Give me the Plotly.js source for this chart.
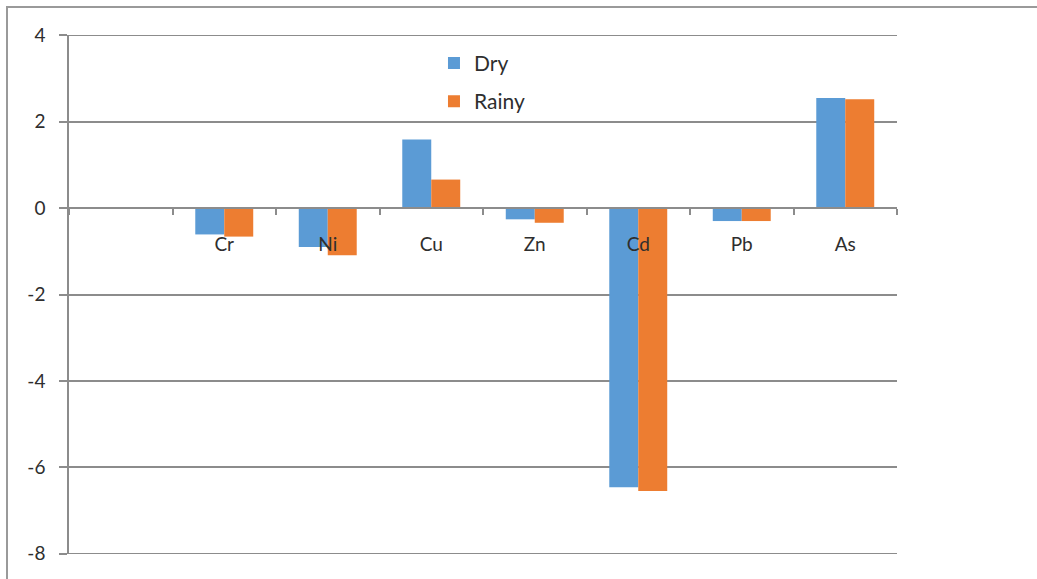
<!DOCTYPE html>
<html>
<head>
<meta charset="utf-8">
<script src="https://cdn.plot.ly/plotly-3.0.1.min.js"></script>
<style>
  html, body { margin: 0; padding: 0; background: #ffffff; }
  #wrap { position: relative; width: 1037px; height: 579px; overflow: hidden; }
  #chart { position: absolute; left: 0; top: 0; width: 1037px; height: 579px; }
  #frame { position: absolute; left: 6px; top: 6px; width: 1040px; height: 580px;
           border-left: 2px solid #9a9a9a; border-top: 2px solid #9a9a9a; pointer-events: none; }
</style>
</head>
<body>
<div id="wrap">
  <div id="chart"></div>
  <div id="frame"></div>
</div>
<script>
// Data (first category is intentionally empty, as in the reference)
const categories = [" ", "Cr", "Ni", "Cu", "Zn", "Cd", "Pb", "As"];
const dryValues   = [null, -0.61, -0.90, 1.59, -0.26, -6.46, -0.30, 2.55];
const rainyValues = [null, -0.66, -1.09, 0.66, -0.34, -6.55, -0.30, 2.52];
const seriesNames = ["Dry", "Rainy"];
const yTickVals = [-8, -6, -4, -2, 0, 2, 4];

const gridColor = "#8c8c8c";
const textColor = "#2e2e2e";
const fontFamily = "Lato, 'Open Sans', sans-serif";

const traces = [
  { type: "bar", name: seriesNames[0], x: categories, y: dryValues, legendgroup: "g1",
    marker: { color: "#5B9BD5" }, hoverinfo: "x+y+name" },
  { type: "bar", name: seriesNames[1], x: categories, y: rainyValues, legendgroup: "g2",
    marker: { color: "#ED7D31" }, hoverinfo: "x+y+name" }
];

const yMin = -8, yMax = 4;
const eps = 0.006;

// Edge gridlines (Plotly omits gridlines at the very ends of the range)
const edgeLines = [yMin, yMax].map(v => ({
  type: "line", xref: "paper", yref: "y", x0: 0, x1: 1, y0: v, y1: v,
  line: { color: gridColor, width: 1.5 }, layer: "below"
}));

const layout = {
  width: 1037, height: 579,
  margin: { l: 69, r: 140, t: 35, b: 25, pad: 0 },
  paper_bgcolor: "rgba(0,0,0,0)",
  plot_bgcolor: "#ffffff",
  font: { family: fontFamily, size: 19, color: textColor },
  barmode: "group",
  bargap: 0.44,
  bargroupgap: 0,
  showlegend: true,
  shapes: edgeLines,
  legend: {
    x: 0.4408, y: 0.985, xanchor: "left", yanchor: "top",
    font: { family: fontFamily, size: 21, color: textColor },
    bgcolor: "rgba(255,255,255,0)",
    traceorder: "grouped",
    tracegroupgap: 8
  },
  xaxis: {
    type: "category",
    categoryorder: "array",
    categoryarray: categories,
    anchor: "free",
    position: (0 - (yMin - eps)) / ((yMax + eps) - (yMin - eps)),
    showgrid: false,
    showline: true, linecolor: gridColor, linewidth: 1.5,
    ticks: "outside", tickson: "boundaries", ticklen: 6, tickcolor: gridColor, tickwidth: 1.5,
    ticklabelstandoff: 19,
    tickfont: { family: fontFamily, size: 19, color: textColor },
    zeroline: false,
    fixedrange: true
  },
  yaxis: {
    range: [yMin - eps, yMax + eps],
    tickvals: yTickVals,
    ticktext: yTickVals.map(String),
    showgrid: true, gridcolor: gridColor, gridwidth: 1.5,
    showline: true, linecolor: gridColor, linewidth: 1.5,
    ticks: "outside", ticklen: 8, tickcolor: gridColor, tickwidth: 1.5,
    ticklabelstandoff: 10,
    tickfont: { family: fontFamily, size: 19, color: textColor },
    zeroline: false,
    fixedrange: true
  }
};

Plotly.newPlot("chart", traces, layout, { displayModeBar: false });
</script>
</body>
</html>
